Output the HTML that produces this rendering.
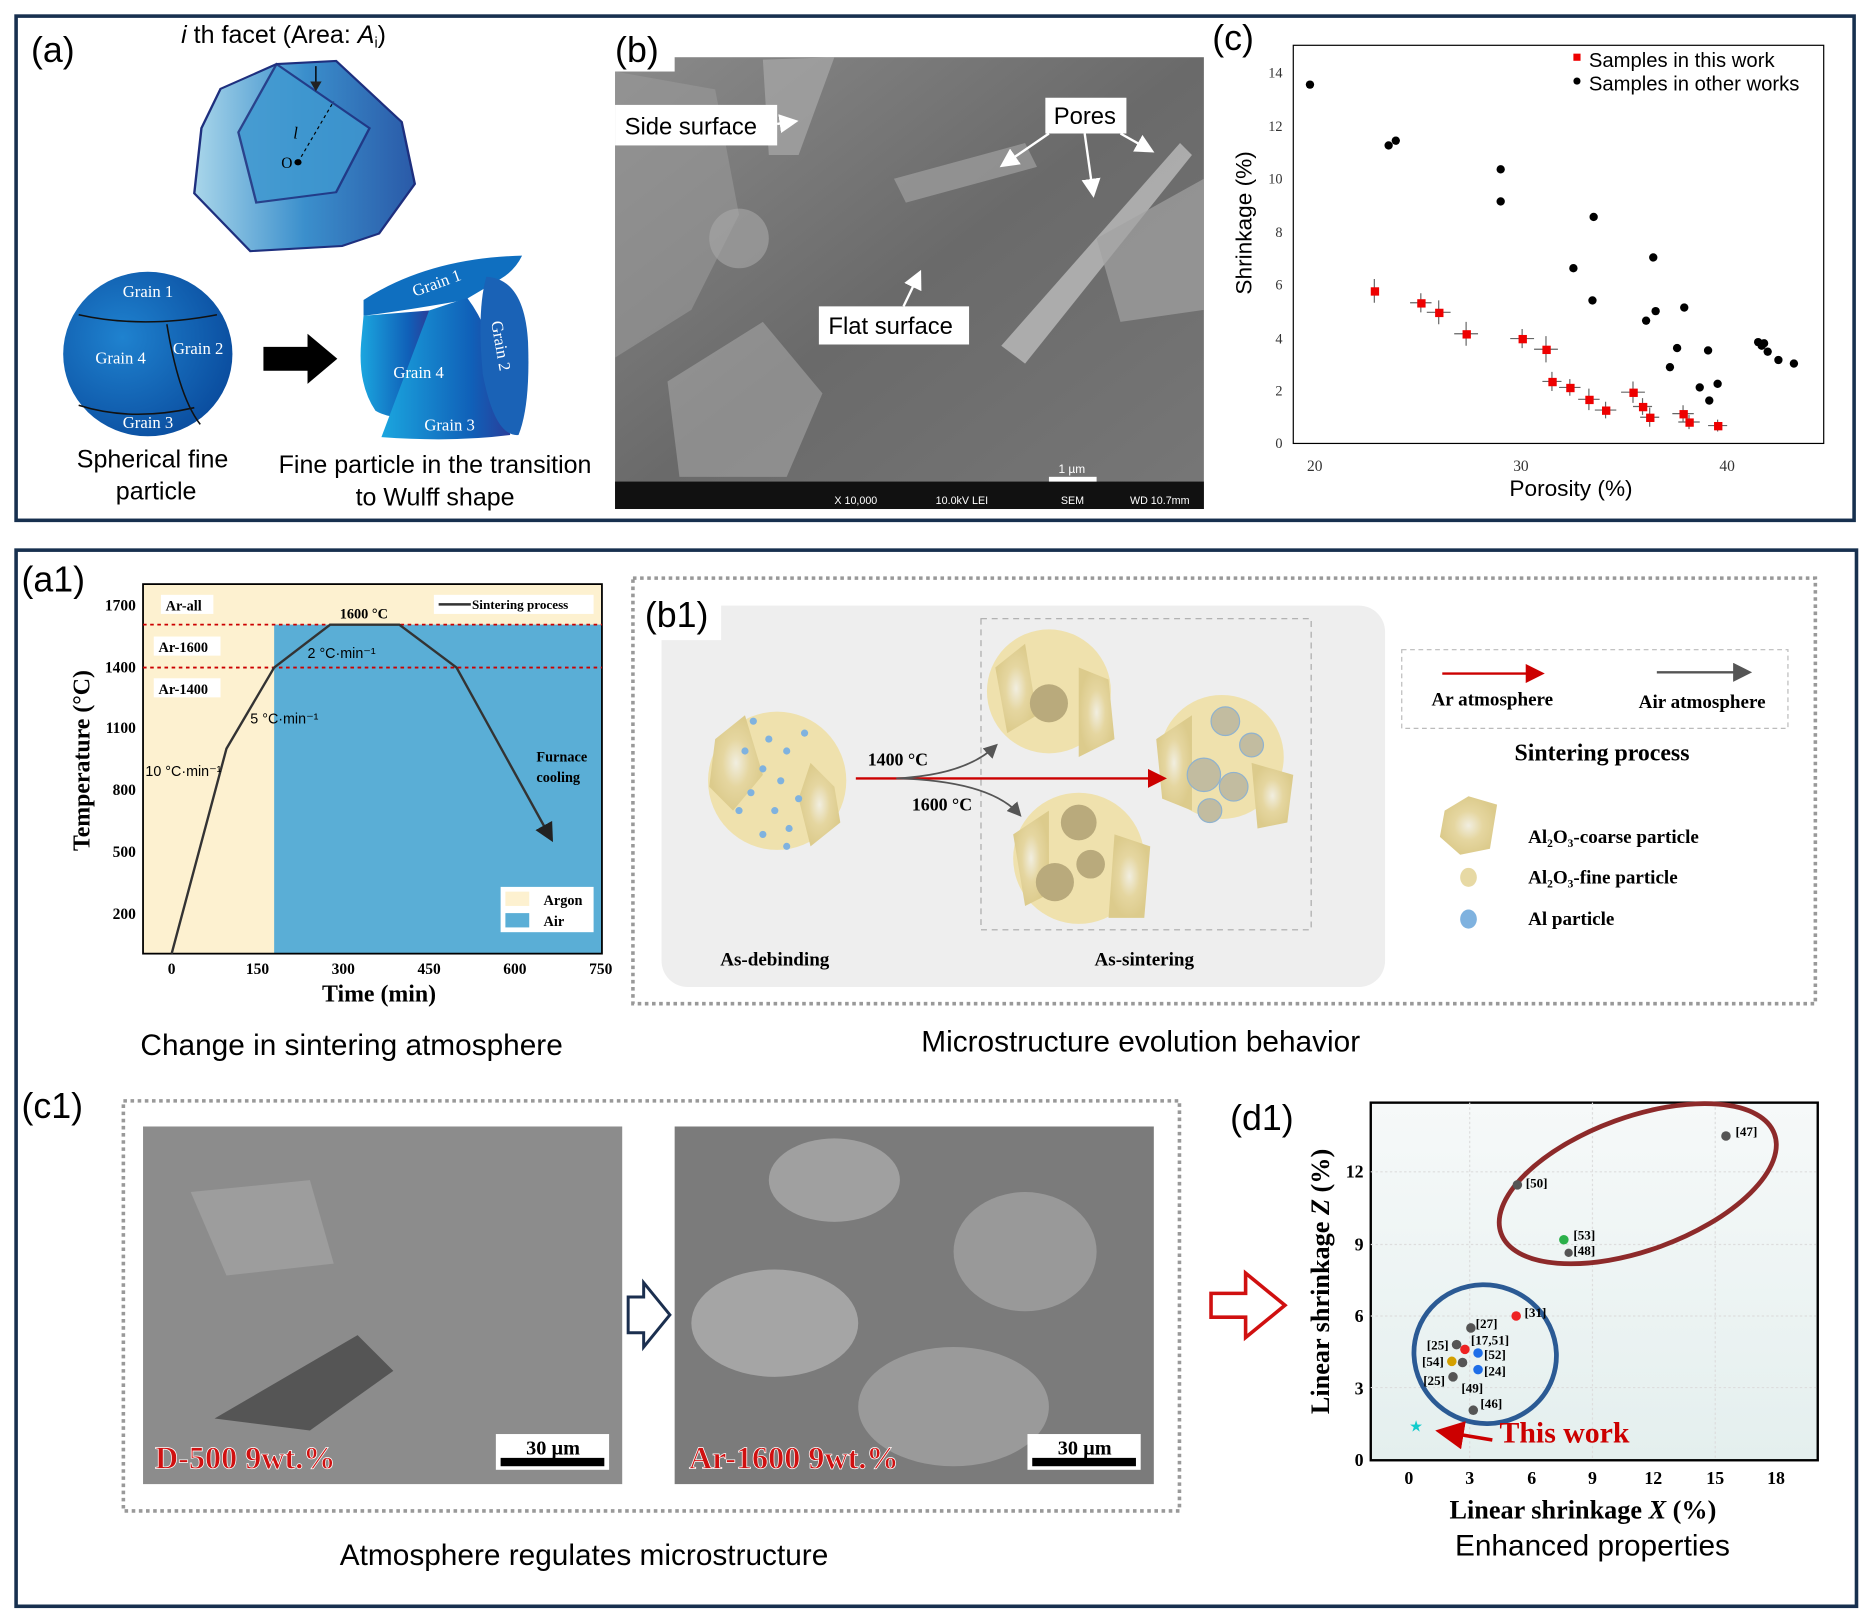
<!DOCTYPE html>
<html><head><meta charset="utf-8"><style>
html,body{margin:0;padding:0;background:#fff;width:1869px;height:1620px;overflow:hidden}
svg{display:block}
text{font-family:"Liberation Sans",sans-serif}
.s{font-family:"Liberation Serif",serif}
.b{font-family:"Liberation Serif",serif;font-weight:bold}
</style></head><body>
<svg width="1869" height="1620" viewBox="0 0 1568 1359" preserveAspectRatio="none" xmlns="http://www.w3.org/2000/svg">
<defs>
<linearGradient id="poly" x1="0" x2="1"><stop offset="0" stop-color="#a9d6ea"/><stop offset="0.5" stop-color="#3b8fcc"/><stop offset="1" stop-color="#2a5aa8"/></linearGradient>
<radialGradient id="sph" cx="0.35" cy="0.4" r="0.7"><stop offset="0" stop-color="#1f82cf"/><stop offset="1" stop-color="#0a4c9e"/></radialGradient>
<linearGradient id="cyl" x1="0" x2="1"><stop offset="0" stop-color="#1ba6df"/><stop offset="0.7" stop-color="#1060b8"/><stop offset="1" stop-color="#2a3e9a"/></linearGradient>
<linearGradient id="sem" x1="0" y1="0" x2="1" y2="1"><stop offset="0" stop-color="#8a8a8a"/><stop offset="0.5" stop-color="#6a6a6a"/><stop offset="1" stop-color="#777"/></linearGradient>
<radialGradient id="coarse"><stop offset="0" stop-color="#f1eee0"/><stop offset="0.5" stop-color="#e5d6a0"/><stop offset="1" stop-color="#dccb8c"/></radialGradient>
<linearGradient id="d1bg" x1="0" y1="0" x2="0" y2="1"><stop offset="0" stop-color="#f6f9f9"/><stop offset="1" stop-color="#e4efee"/></linearGradient>
<marker id="ag" markerWidth="8" markerHeight="8" refX="6" refY="4" orient="auto"><path d="M0,0 L8,4 L0,8z" fill="#555"/></marker>
<marker id="ar" markerWidth="8" markerHeight="8" refX="6" refY="4" orient="auto"><path d="M0,0 L8,4 L0,8z" fill="#c00"/></marker>
<marker id="ak" markerWidth="8" markerHeight="8" refX="6" refY="4" orient="auto"><path d="M0,0 L8,4 L0,8z" fill="#222"/></marker>
<marker id="aw" markerWidth="8" markerHeight="8" refX="6" refY="4" orient="auto"><path d="M0,0 L8,4 L0,8z" fill="#fff"/></marker>
</defs>

<!-- frames -->
<rect x="13.5" y="13.5" width="1542" height="423" fill="none" stroke="#17304f" stroke-width="3"/>
<rect x="13.5" y="461.5" width="1544" height="886" fill="none" stroke="#17304f" stroke-width="3"/>

<!-- (a) -->
<text x="26" y="52" font-size="30">(a)</text>
<text x="152" y="36" font-size="21"><tspan font-style="italic">i</tspan> th facet (Area: <tspan font-style="italic">A</tspan><tspan font-size="12" dy="4">i</tspan><tspan dy="-4">)</tspan></text>
<g transform="scale(1,0.867)">
<polygon points="232,62 282,59 337,118 348,178 318,226 287,238 210,243 163,187 169,124 185,86" fill="url(#poly)" stroke="#1e2f7e" stroke-width="2"/>
<polygon points="232,62 200,128 215,196 282,186 310,124" fill="#3f98d0" stroke="#1e2f7e" stroke-width="2" opacity="0.85"/>
<line x1="265" y1="64" x2="265" y2="86" stroke="#000" stroke-width="1.2" marker-end="url(#ak)"/>
<line x1="250" y1="157" x2="280" y2="98" stroke="#000" stroke-dasharray="3,3"/>
<circle cx="250" cy="157" r="3"/>
</g>
<text x="236" y="141" class="s" font-size="13">O</text>
<text x="246" y="116" class="s" font-style="italic" font-size="14">l</text>
<!-- sphere -->
<ellipse cx="124" cy="297" rx="71" ry="69" fill="url(#sph)"/>
<path d="M66,264 Q120,276 182,264 M140,272 Q150,333 168,356 M66,340 Q110,354 163,342" fill="none" stroke="#111" stroke-width="1.3"/>
<g font-size="14" fill="#fff"><text x="103" y="249" class="s">Grain 1</text><text x="145" y="297" class="s">Grain 2</text><text x="80" y="305" class="s">Grain 4</text><text x="103" y="359" class="s">Grain 3</text></g>
<polygon points="221,291 258,291 258,280 283,301 258,322 258,311 221,311" fill="#000"/>
<g transform="translate(0,-5) scale(1,0.885)">
<path d="M305,290 Q360,250 438,248 Q432,262 420,270 L390,290 Q340,300 305,305 Z" fill="#0f6fc0"/>
<path d="M305,305 L360,300 L360,400 Q330,405 315,395 Q300,370 303,330 Z" fill="url(#cyl)"/>
<path d="M360,300 L392,288 Q420,330 428,418 Q380,425 320,420 Z" fill="url(#cyl)"/>
<path d="M408,268 Q440,270 443,330 Q445,390 435,418 Q415,420 405,360 Q400,300 408,268Z" fill="#1a62b6"/>
</g>
<g font-size="14" fill="#fff"><text x="348" y="249" class="s" transform="rotate(-20 348 249)">Grain 1</text><text x="330" y="317" class="s">Grain 4</text><text x="356" y="361" class="s">Grain 3</text><text x="412" y="270" class="s" transform="rotate(80 412 270)">Grain 2</text></g>
<text x="128" y="392" font-size="21" text-anchor="middle">Spherical fine</text>
<text x="131" y="419" font-size="21" text-anchor="middle">particle</text>
<text x="365" y="397" font-size="21" text-anchor="middle">Fine particle in the transition</text>
<text x="365" y="424" font-size="21" text-anchor="middle">to Wulff shape</text>

<!-- (b) -->
<rect x="516" y="48" width="494" height="379" fill="url(#sem)"/>
<polygon points="516,60 600,75 620,180 580,260 516,300" fill="#9a9a9a" opacity="0.6"/>
<polygon points="560,320 640,270 690,330 660,400 570,400" fill="#b0b0b0" opacity="0.5"/>
<polygon points="840,290 990,120 1000,130 860,305" fill="#bcbcbc" opacity="0.8"/>
<polygon points="920,200 1010,150 1010,260 940,270" fill="#a3a3a3" opacity="0.7"/>
<polygon points="750,150 860,120 870,140 760,170" fill="#a0a0a0" opacity="0.7"/>
<polygon points="640,50 700,48 670,130 645,130" fill="#aaa" opacity="0.7"/>
<circle cx="620" cy="200" r="25" fill="#a8a8a8" opacity="0.6"/>
<rect x="516" y="404" width="494" height="23" fill="#111"/>
<rect x="880" y="400" width="40" height="4" fill="#fff"/>
<text x="888" y="397" font-size="10" fill="#fff">1 µm</text>
<g font-size="9" fill="#fff"><text x="700" y="423" font-family="Liberation Mono">X 10,000</text><text x="785" y="423" font-family="Liberation Mono">10.0kV LEI</text><text x="890" y="423" font-family="Liberation Mono">SEM</text><text x="948" y="423" font-family="Liberation Mono">WD 10.7mm</text></g>
<rect x="506" y="20" width="60" height="40" fill="#fff"/>
<text x="516" y="52" font-size="30">(b)</text>
<rect x="516" y="88" width="136" height="34" fill="#fff"/><text x="524" y="113" font-size="20">Side surface</text>
<line x1="652" y1="104" x2="666" y2="102" stroke="#fff" stroke-width="2" marker-end="url(#aw)"/>
<rect x="877" y="82" width="68" height="30" fill="#fff"/><text x="884" y="104" font-size="20">Pores</text>
<line x1="880" y1="112" x2="842" y2="138" stroke="#fff" stroke-width="2" marker-end="url(#aw)"/>
<line x1="910" y1="112" x2="917" y2="162" stroke="#fff" stroke-width="2" marker-end="url(#aw)"/>
<line x1="940" y1="112" x2="965" y2="126" stroke="#fff" stroke-width="2" marker-end="url(#aw)"/>
<rect x="687" y="257" width="126" height="32" fill="#fff"/><text x="695" y="280" font-size="20">Flat surface</text>
<line x1="758" y1="257" x2="771" y2="230" stroke="#fff" stroke-width="2" marker-end="url(#aw)"/>

<!-- (c) -->
<text x="1017" y="42" font-size="30">(c)</text>
<rect x="1085" y="38" width="445" height="334" fill="none" stroke="#000" stroke-width="1"/>
<g font-size="12" fill="#333" text-anchor="end">
<text x="1076" y="376" class="s">0</text><text x="1076" y="332" class="s">2</text><text x="1076" y="288" class="s">4</text><text x="1076" y="243" class="s">6</text><text x="1076" y="199" class="s">8</text><text x="1076" y="154" class="s">10</text><text x="1076" y="110" class="s">12</text><text x="1076" y="65" class="s">14</text></g>
<g font-size="13" fill="#333" text-anchor="middle"><text x="1103" y="395" class="s">20</text><text x="1276" y="395" class="s">30</text><text x="1449" y="395" class="s">40</text></g>
<text x="1318" y="416" font-size="19" text-anchor="middle">Porosity (%)</text>
<text x="1050" y="187" font-size="19" text-anchor="middle" transform="rotate(-90 1050 187)">Shrinkage (%)</text>
<rect x="1320" y="45" width="6" height="6" fill="#e00"/><text x="1333" y="56" font-size="17">Samples in this work</text>
<circle cx="1323" cy="68" r="3"/><text x="1333" y="76" font-size="17">Samples in other works</text>
<g fill="#000">
<circle cx="1099" cy="71" r="3.5"/><circle cx="1165" cy="122" r="3.5"/><circle cx="1171" cy="118" r="3.5"/><circle cx="1259" cy="142" r="3.5"/><circle cx="1259" cy="169" r="3.5"/><circle cx="1337" cy="182" r="3.5"/><circle cx="1320" cy="225" r="3.5"/><circle cx="1336" cy="252" r="3.5"/><circle cx="1387" cy="216" r="3.5"/><circle cx="1389" cy="261" r="3.5"/><circle cx="1381" cy="269" r="3.5"/><circle cx="1413" cy="258" r="3.5"/><circle cx="1407" cy="292" r="3.5"/><circle cx="1401" cy="308" r="3.5"/><circle cx="1433" cy="294" r="3.5"/><circle cx="1426" cy="325" r="3.5"/><circle cx="1441" cy="322" r="3.5"/><circle cx="1434" cy="336" r="3.5"/><circle cx="1475" cy="287" r="3.5"/><circle cx="1480" cy="288" r="3.5"/><circle cx="1483" cy="295" r="3.5"/><circle cx="1492" cy="302" r="3.5"/><circle cx="1505" cy="305" r="3.5"/><circle cx="1478" cy="290" r="3.5"/></g>
<g stroke="#666" stroke-width="1">
<path d="M1153,234v20M1192,246v16M1207,252v20M1230,270v20M1277,276v16M1297,282v22M1302,312v16M1317,318v14M1333,326v18M1347,337v14M1370,320v18M1378,334v14M1384,342v16M1412,340v14M1417,348v12M1441,352v10M1183,254h18M1197,262h20M1220,280h20M1267,284h20M1287,293h20M1294,320h16M1308,325h18M1324,335h18M1338,344h18M1360,329h20M1370,341h16M1376,350h16M1403,347h18M1408,354h18M1433,357h16"/></g>
<g fill="#e00">
<rect x="1150" y="241" width="7" height="7"/><rect x="1189" y="251" width="7" height="7"/><rect x="1204" y="259" width="7" height="7"/><rect x="1227" y="277" width="7" height="7"/><rect x="1274" y="281" width="7" height="7"/><rect x="1294" y="290" width="7" height="7"/><rect x="1299" y="317" width="7" height="7"/><rect x="1314" y="322" width="7" height="7"/><rect x="1330" y="332" width="7" height="7"/><rect x="1344" y="341" width="7" height="7"/><rect x="1367" y="326" width="7" height="7"/><rect x="1375" y="338" width="7" height="7"/><rect x="1381" y="347" width="7" height="7"/><rect x="1409" y="344" width="7" height="7"/><rect x="1414" y="351" width="7" height="7"/><rect x="1438" y="354" width="7" height="7"/></g>

<!-- (a1) -->
<text x="18" y="496" font-size="30">(a1)</text>
<rect x="120" y="490" width="385" height="310" fill="#fdf1d0"/>
<rect x="230" y="524" width="275" height="276" fill="#5aaed6"/>
<rect x="120" y="490" width="385" height="310" fill="none" stroke="#000" stroke-width="1.5"/>
<line x1="120" y1="524" x2="505" y2="524" stroke="#c00" stroke-width="1.5" stroke-dasharray="3,3"/>
<line x1="120" y1="560" x2="505" y2="560" stroke="#c00" stroke-width="1.5" stroke-dasharray="3,3"/>
<polyline points="144,800 190,628 230,560 277,524 335,524 383,560 462,703" fill="none" stroke="#333" stroke-width="2" marker-end="url(#ak)"/>
<g font-size="12"><rect x="135" y="499" width="44" height="16" fill="#fff"/><text x="139" y="512" class="b">Ar-all</text>
<rect x="129" y="534" width="56" height="16" fill="#fff"/><text x="133" y="547" class="b">Ar-1600</text>
<rect x="129" y="569" width="56" height="16" fill="#fff"/><text x="133" y="582" class="b">Ar-1400</text>
<rect x="364" y="499" width="134" height="16" fill="#fff"/><line x1="368" y1="507" x2="395" y2="507" stroke="#333" stroke-width="2"/><text x="396" y="511" font-size="11" class="b">Sintering process</text>
<text x="285" y="519" class="b" font-size="12">1600 °C</text>
<text x="450" y="639" class="b" font-size="12">Furnace</text><text x="450" y="656" class="b" font-size="12">cooling</text>
<rect x="420" y="744" width="78" height="38" fill="#fff"/><rect x="424" y="748" width="20" height="12" fill="#fdf1d0"/><rect x="424" y="766" width="20" height="12" fill="#5aaed6"/><text x="456" y="759" class="b">Argon</text><text x="456" y="777" class="b">Air</text></g>
<g font-size="12"><text x="258" y="552">2 °C·min⁻¹</text><text x="210" y="607">5 °C·min⁻¹</text><text x="122" y="651">10 °C·min⁻¹</text></g>
<g font-size="13" text-anchor="end"><text x="114" y="512" class="b">1700</text><text x="114" y="564" class="b">1400</text><text x="114" y="615" class="b">1100</text><text x="114" y="667" class="b">800</text><text x="114" y="719" class="b">500</text><text x="114" y="771" class="b">200</text></g>
<g font-size="13" text-anchor="middle"><text x="144" y="817" class="b">0</text><text x="216" y="817" class="b">150</text><text x="288" y="817" class="b">300</text><text x="360" y="817" class="b">450</text><text x="432" y="817" class="b">600</text><text x="504" y="817" class="b">750</text></g>
<text x="318" y="840" class="b" font-size="20" text-anchor="middle">Time (min)</text>
<text x="75" y="638" class="b" font-size="20" text-anchor="middle" transform="rotate(-90 75 638)">Temperature (°C)</text>
<text x="295" y="885" font-size="25" text-anchor="middle">Change in sintering atmosphere</text>

<!-- (b1) -->
<rect x="531" y="485" width="992" height="357" fill="none" stroke="#999" stroke-width="3" stroke-dasharray="3,3"/>
<rect x="555" y="508" width="607" height="320" rx="22" fill="#eeeeee"/>
<rect x="540" y="492" width="65" height="45" fill="#fff"/>
<text x="541" y="526" font-size="30">(b1)</text>
<rect x="823" y="519" width="277" height="261" fill="none" stroke="#aaa" stroke-dasharray="5,4"/>
<g><circle cx="652" cy="655" r="58" fill="#efe1ad"/><polygon points="600,620 625,600 640,650 615,680 595,660" fill="url(#coarse)"/><polygon points="680,640 700,660 705,690 680,710 670,670" fill="url(#coarse)"/>
<g fill="#7fb2df"><circle cx="632" cy="605" r="3"/><circle cx="645" cy="620" r="3"/><circle cx="660" cy="630" r="3"/><circle cx="640" cy="645" r="3"/><circle cx="655" cy="655" r="3"/><circle cx="630" cy="665" r="3"/><circle cx="670" cy="670" r="3"/><circle cx="650" cy="680" r="3"/><circle cx="620" cy="680" r="3"/><circle cx="662" cy="695" r="3"/><circle cx="640" cy="700" r="3"/><circle cx="675" cy="615" r="3"/><circle cx="625" cy="630" r="3"/><circle cx="660" cy="710" r="3"/></g></g>
<circle cx="880" cy="580" r="52" fill="#efe1ad"/><polygon points="835,560 860,540 870,600 845,615" fill="url(#coarse)"/><polygon points="905,560 930,570 935,620 905,635" fill="url(#coarse)"/><circle cx="880" cy="590" r="16" fill="#b9aa7c"/>
<circle cx="905" cy="720" r="55" fill="#efe1ad"/><polygon points="850,700 880,680 880,750 860,760" fill="url(#coarse)"/><polygon points="935,700 965,710 960,770 930,770" fill="url(#coarse)"/><circle cx="905" cy="690" r="15" fill="#b9aa7c"/><circle cx="885" cy="740" r="16" fill="#b9aa7c"/><circle cx="915" cy="725" r="12" fill="#b9aa7c"/>
<circle cx="1025" cy="635" r="52" fill="#efe1ad"/><polygon points="970,620 1000,600 1000,680 975,670" fill="url(#coarse)"/><polygon points="1050,640 1085,650 1080,690 1055,695" fill="url(#coarse)"/>
<g fill="#c2bca0" stroke="#8fb2cf"><circle cx="1028" cy="605" r="12"/><circle cx="1050" cy="625" r="10"/><circle cx="1010" cy="650" r="14"/><circle cx="1035" cy="660" r="12"/><circle cx="1015" cy="680" r="10"/></g>
<line x1="718" y1="653" x2="975" y2="653" stroke="#c00" stroke-width="2" marker-end="url(#ar)"/>
<path d="M752,653 Q810,650 835,626" fill="none" stroke="#555" stroke-width="1.5" marker-end="url(#ag)"/>
<path d="M752,653 Q830,655 855,683" fill="none" stroke="#555" stroke-width="1.5" marker-end="url(#ag)"/>
<text x="728" y="642" class="b" font-size="15">1400 °C</text>
<text x="765" y="680" class="b" font-size="15">1600 °C</text>
<text x="650" y="810" class="b" font-size="16" text-anchor="middle">As-debinding</text>
<text x="960" y="810" class="b" font-size="16" text-anchor="middle">As-sintering</text>
<rect x="1176" y="545" width="324" height="66" fill="none" stroke="#bbb" stroke-dasharray="4,3"/>
<line x1="1210" y1="565" x2="1292" y2="565" stroke="#c00" stroke-width="2" marker-end="url(#ar)"/>
<line x1="1390" y1="564" x2="1466" y2="564" stroke="#555" stroke-width="2" marker-end="url(#ag)"/>
<text x="1252" y="592" class="b" font-size="16" text-anchor="middle">Ar atmosphere</text>
<text x="1428" y="594" class="b" font-size="16" text-anchor="middle">Air atmosphere</text>
<text x="1344" y="638" class="b" font-size="20" text-anchor="middle">Sintering process</text>
<polygon points="1212,680 1232,668 1256,675 1250,712 1225,717 1208,702" fill="url(#coarse)"/>
<ellipse cx="1232" cy="736" rx="7" ry="8" fill="#e7d9a4"/>
<ellipse cx="1232" cy="771" rx="7" ry="8" fill="#7fb2df"/>
<g font-size="16"><text x="1282" y="707" class="b">Al₂O₃-coarse particle</text><text x="1282" y="741" class="b">Al₂O₃-fine particle</text><text x="1282" y="776" class="b">Al particle</text></g>
<text x="957" y="882" font-size="25" text-anchor="middle">Microstructure evolution behavior</text>

<!-- (c1) -->
<text x="18" y="938" font-size="30">(c1)</text>
<rect x="103.5" y="923.5" width="886" height="344" fill="none" stroke="#999" stroke-width="3" stroke-dasharray="3,3"/>
<rect x="120" y="945" width="402" height="300" fill="#8c8c8c"/>
<polygon points="180,1190 300,1120 330,1150 260,1200" fill="#555"/>
<polygon points="160,1000 260,990 280,1060 190,1070" fill="#9d9d9d"/>
<rect x="566" y="945" width="402" height="300" fill="#7b7b7b"/>
<ellipse cx="650" cy="1110" rx="70" ry="45" fill="#a5a5a5"/><ellipse cx="800" cy="1180" rx="80" ry="50" fill="#9a9a9a"/><ellipse cx="860" cy="1050" rx="60" ry="50" fill="#999"/><ellipse cx="700" cy="990" rx="55" ry="35" fill="#a0a0a0"/>
<rect x="416" y="1203" width="95" height="30" fill="#fff"/><rect x="420" y="1223" width="87" height="7" fill="#000"/><text x="464" y="1220" class="b" font-size="17" text-anchor="middle">30 µm</text>
<rect x="862" y="1203" width="95" height="30" fill="#fff"/><rect x="866" y="1223" width="87" height="7" fill="#000"/><text x="910" y="1220" class="b" font-size="17" text-anchor="middle">30 µm</text>
<text x="130" y="1232" class="b" font-size="27" fill="#d01010" stroke="#fff" stroke-width="0.6">D-500 9wt.%</text>
<text x="578" y="1232" class="b" font-size="27" fill="#d01010" stroke="#fff" stroke-width="0.6">Ar-1600 9wt.%</text>
<polygon points="527,1088 540,1088 540,1076 562,1103 540,1130 540,1118 527,1118" fill="#fff" stroke="#1b2f4f" stroke-width="2.5"/>
<text x="490" y="1313" font-size="25" text-anchor="middle">Atmosphere regulates microstructure</text>

<!-- (d1) -->
<polygon points="1016,1085 1045,1085 1045,1068 1078,1095 1045,1122 1045,1105 1016,1105" fill="#fff" stroke="#d01010" stroke-width="3"/>
<text x="1032" y="948" font-size="30">(d1)</text>
<rect x="1150" y="925" width="375" height="300" fill="url(#d1bg)" stroke="#000" stroke-width="2"/>
<g stroke="#ddd" stroke-dasharray="2,2"><line x1="1150" y1="983" x2="1525" y2="983"/><line x1="1150" y1="1044" x2="1525" y2="1044"/><line x1="1150" y1="1104" x2="1525" y2="1104"/><line x1="1150" y1="1164" x2="1525" y2="1164"/><line x1="1233" y1="925" x2="1233" y2="1225"/><line x1="1336" y1="925" x2="1336" y2="1225"/><line x1="1439" y1="925" x2="1439" y2="1225"/></g>
<g font-size="15" text-anchor="end"><text x="1144" y="1230" class="b">0</text><text x="1144" y="1170" class="b">3</text><text x="1144" y="1109" class="b">6</text><text x="1144" y="1049" class="b">9</text><text x="1144" y="988" class="b">12</text></g>
<g font-size="15" text-anchor="middle"><text x="1182" y="1245" class="b">0</text><text x="1233" y="1245" class="b">3</text><text x="1285" y="1245" class="b">6</text><text x="1336" y="1245" class="b">9</text><text x="1387" y="1245" class="b">12</text><text x="1439" y="1245" class="b">15</text><text x="1490" y="1245" class="b">18</text></g>
<text x="1328" y="1274" class="b" font-size="22" text-anchor="middle">Linear shrinkage <tspan font-style="italic">X</tspan> (%)</text>
<text x="1115" y="1075" class="b" font-size="22" text-anchor="middle" transform="rotate(-90 1115 1075)">Linear shrinkage <tspan font-style="italic">Z</tspan> (%)</text>
<ellipse cx="1374" cy="993" rx="122" ry="56" transform="rotate(-20 1374 993)" fill="none" stroke="#8d2a2a" stroke-width="4"/>
<ellipse cx="1246" cy="1136" rx="60" ry="58" transform="rotate(20 1246 1136)" fill="none" stroke="#2b5a94" stroke-width="4"/>
<g fill="#555"><circle cx="1448" cy="953" r="4"/><circle cx="1273" cy="994" r="4"/><circle cx="1316" cy="1051" r="3.5"/><circle cx="1234" cy="1114" r="4"/><circle cx="1222" cy="1128" r="4"/><circle cx="1227" cy="1143" r="4"/><circle cx="1219" cy="1155" r="4"/><circle cx="1236" cy="1183" r="4"/></g>
<circle cx="1312" cy="1040" r="4" fill="#2bb04a"/><circle cx="1272" cy="1104" r="4" fill="#e22"/><circle cx="1229" cy="1132" r="4" fill="#e22"/><circle cx="1240" cy="1135" r="4" fill="#1e6ee8"/><circle cx="1240" cy="1149" r="4" fill="#1e6ee8"/><circle cx="1218" cy="1142" r="4" fill="#d4a000"/>
<g font-size="11"><text x="1456" y="953" class="b">[47]</text><text x="1280" y="996" class="b">[50]</text><text x="1320" y="1040" class="b">[53]</text><text x="1320" y="1053" class="b">[48]</text><text x="1279" y="1105" class="b">[31]</text><text x="1238" y="1114" class="b">[27]</text><text x="1197" y="1132" class="b">[25]</text><text x="1234" y="1128" class="b">[17,51]</text><text x="1245" y="1140" class="b">[52]</text><text x="1193" y="1146" class="b">[54]</text><text x="1245" y="1154" class="b">[24]</text><text x="1194" y="1162" class="b">[25]</text><text x="1226" y="1168" class="b">[49]</text><text x="1242" y="1181" class="b">[46]</text></g>
<text x="1188" y="1201" font-size="13" fill="#1cc" text-anchor="middle">★</text>
<line x1="1252" y1="1208" x2="1210" y2="1201" stroke="#c00" stroke-width="3" marker-end="url(#ar)"/>
<text x="1258" y="1210" class="b" font-size="25" fill="#c00">This work</text>
<text x="1336" y="1305" font-size="25" text-anchor="middle">Enhanced properties</text>
</svg>
</body></html>
